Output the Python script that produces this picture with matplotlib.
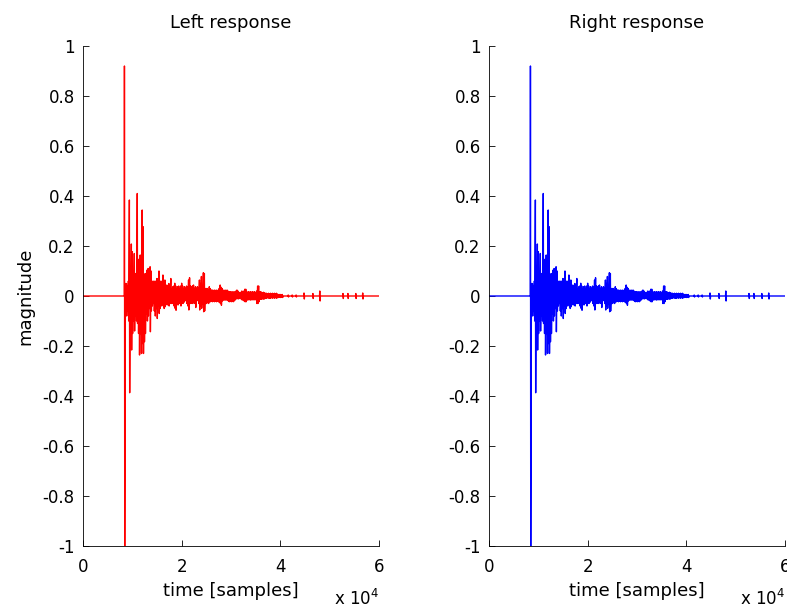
import matplotlib
matplotlib.use("Agg")
import matplotlib.pyplot as plt
import numpy as np

plt.rcParams['font.family'] = ['DejaVu Sans']
plt.rcParams['font.size'] = 12
plt.rcParams['axes.unicode_minus'] = False

# --- data ---
# the trace is read as one (max, min) pair per 200-sample column,
# first column at sample 8400 (the direct sound)
col_start = 8400
col_step = 200
left_hi = [0.92, 0.05, 0.05, 0.04, 0.06, 0.384, 0.12, 0.208, 0.177, 0.10,
           0.17, 0.09, 0.06, 0.41, 0.10, 0.148, 0.164, 0.05, 0.344, 0.277,
           0.08, 0.09, 0.077, 0.104, 0.11, 0.06, 0.117, 0.10, 0.05, 0.06,
           0.05, 0.06, 0.04, 0.07, 0.05, 0.10, 0.05, 0.06, 0.04, 0.084,
           0.05, 0.064, 0.04, 0.044, 0.03, 0.05, 0.04, 0.07, 0.03, 0.037,
           0.04, 0.051, 0.04, 0.03, 0.037, 0.04, 0.03, 0.04, 0.051, 0.04,
           0.03, 0.037, 0.03, 0.04, 0.035, 0.064, 0.073, 0.04, 0.037, 0.04,
           0.044, 0.03, 0.037, 0.03, 0.037, 0.03, 0.064, 0.05, 0.078, 0.04,
           0.093, 0.09, 0.03, 0.03, 0.03, 0.025, 0.037, 0.03, 0.024, 0.024,
           0.02, 0.024, 0.02, 0.024, 0.02, 0.024, 0.03, 0.044, 0.035, 0.03,
           0.024, 0.02, 0.024, 0.02, 0.024, 0.02, 0.017, 0.017, 0.017, 0.015,
           0.017, 0.015, 0.017, 0.02, 0.024, 0.02, 0.015, 0.012, 0.015, 0.02,
           0.015, 0.02, 0.027, 0.027, 0.017, 0.015, 0.017, 0.015, 0.017, 0.015,
           0.017, 0.015, 0.017, 0.012, 0.02, 0.04, 0.04, 0.017, 0.017, 0.015,
           0.012, 0.015, 0.012, 0.011, 0.011, 0.008, 0.011, 0.008, 0.011, 0.008,
           0.011, 0.008, 0.011, 0.008, 0.011, 0.008, 0.006, 0.006, 0.006, 0.004,
           0.006]
left_lo = [-1.0, -0.03, -0.08, -0.06, -0.10, -0.387, -0.12, -0.216, -0.15, -0.10,
           -0.14, -0.08, -0.10, -0.11, -0.15, -0.236, -0.15, -0.23, -0.19, -0.23,
           -0.183, -0.15, -0.07, -0.10, -0.08, -0.05, -0.143, -0.06, -0.04, -0.03,
           -0.06, -0.08, -0.05, -0.09, -0.04, -0.07, -0.05, -0.04, -0.03, -0.04,
           -0.05, -0.043, -0.03, -0.036, -0.03, -0.04, -0.03, -0.03, -0.03, -0.023,
           -0.04, -0.049, -0.057, -0.03, -0.036, -0.03, -0.03, -0.04, -0.029, -0.03,
           -0.025, -0.02, -0.016, -0.03, -0.04, -0.056, -0.03, -0.03, -0.029, -0.03,
           -0.023, -0.03, -0.046, -0.02, -0.016, -0.03, -0.056, -0.04, -0.049, -0.03,
           -0.063, -0.06, -0.03, -0.03, -0.025, -0.03, -0.023, -0.023, -0.02, -0.023,
           -0.02, -0.023, -0.02, -0.023, -0.02, -0.023, -0.025, -0.03, -0.037, -0.02,
           -0.016, -0.016, -0.016, -0.016, -0.016, -0.02, -0.023, -0.02, -0.023, -0.02,
           -0.023, -0.02, -0.016, -0.012, -0.01, -0.012, -0.01, -0.01, -0.012, -0.016,
           -0.016, -0.02, -0.023, -0.023, -0.016, -0.016, -0.012, -0.016, -0.016, -0.012,
           -0.016, -0.012, -0.016, -0.012, -0.03, -0.03, -0.023, -0.013, -0.013, -0.013,
           -0.01, -0.013, -0.01, -0.009, -0.009, -0.006, -0.009, -0.009, -0.009, -0.006,
           -0.009, -0.006, -0.009, -0.006, -0.009, -0.006, -0.006, -0.004, -0.006, -0.004,
           -0.006]
# the right trace reads the same as the left one in the picture
right_hi = list(left_hi)
right_lo = list(left_lo)

# isolated late reflections (sample, amplitude)
late_t = [41600, 42400, 43200, 44800, 46600, 48000, 52700, 53700, 55300, 56700]
late_amp = [0.004, 0.004, 0.004, 0.012, 0.01, 0.02, 0.01, 0.01, 0.01, 0.012]
end_t = 60000

yticks = [-1, -0.8, -0.6, -0.4, -0.2, 0, 0.2, 0.4, 0.6, 0.8, 1]
ytick_labels = ['-1', '-0.8', '-0.6', '-0.4', '-0.2', '0', '0.2', '0.4', '0.6', '0.8', '1']
xticks = [0, 20000, 40000, 60000]
xtick_labels = ['0', '2', '4', '6']


def build(hi, lo):
    t = [0, col_start - 30]
    v = [0, 0]
    for i in range(len(hi)):
        c = col_start + i * col_step
        t += [c, c + 60]
        v += [hi[i], lo[i]]
    last = col_start + len(hi) * col_step
    t.append(last)
    v.append(0)
    for lt, la in zip(late_t, late_amp):
        t += [lt - 60, lt, lt + 60, lt + 120]
        v += [0, la, -la, 0]
    t.append(end_t)
    v.append(0)
    return np.array(t), np.array(v)


fig = plt.figure(figsize=(7.87, 6.09), dpi=100)
W, H = 787, 609
ax1 = fig.add_axes([83 / W, 63 / H, 296 / W, 500 / H])
ax2 = fig.add_axes([489 / W, 63 / H, 296 / W, 500 / H])

panels = [(ax1, left_hi, left_lo, 'red', 'Left response'),
          (ax2, right_hi, right_lo, 'blue', 'Right response')]

for ax, hi, lo, col, title in panels:
    t, v = build(hi, lo)
    ax.plot(t, v, color=col, lw=1.0)
    ax.set_xlim(0, 60000)
    ax.set_ylim(-1, 1)
    ax.set_yticks(yticks)
    ax.set_yticklabels(ytick_labels)
    ax.set_xticks(xticks)
    ax.set_xticklabels(xtick_labels)
    ax.tick_params(direction='in', length=4, width=0.6, pad=6)
    ax.tick_params(axis='x', pad=9)
    for s in ['top', 'right']:
        ax.spines[s].set_visible(False)
    for s in ['left', 'bottom']:
        ax.spines[s].set_linewidth(0.6)
    ax.set_title(title, fontsize=13, pad=13)
    ax.set_xlabel('time [samples]', fontsize=13, labelpad=4)
    ax.text(1.0, -0.118, 'x 10$^{4}$', transform=ax.transAxes,
            ha='right', va='baseline', fontsize=12)

ax1.set_ylabel('magnitude', fontsize=13, labelpad=6)

fig.savefig('out.png', dpi=100)
